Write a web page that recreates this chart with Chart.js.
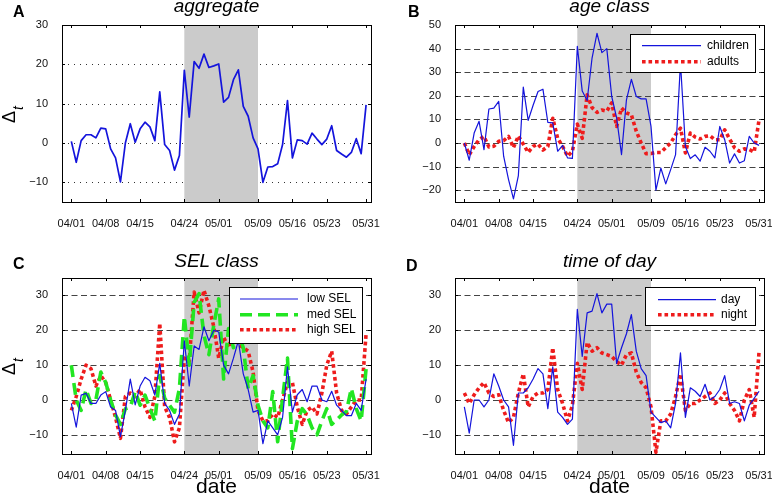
<!DOCTYPE html>
<html>
<head>
<meta charset="utf-8">
<script src="https://cdn.jsdelivr.net/npm/chart.js@4.4.1/dist/chart.umd.min.js"></script>
<style>
  body { margin: 0; background: #fff; }
  #wrap { position: relative; width: 772px; height: 496px; overflow: hidden; }
  canvas { position: absolute; }
</style>
</head>
<body>
<div id="wrap">
  <canvas id="pA" width="386" height="248" style="left:0;top:0"></canvas>
  <canvas id="pB" width="386" height="248" style="left:386px;top:0"></canvas>
  <canvas id="pC" width="386" height="248" style="left:0;top:248px"></canvas>
  <canvas id="pD" width="386" height="248" style="left:386px;top:248px"></canvas>
</div>
<script>
// x axis: day index from 04/01 (0) to 05/31 (60)
var tickDays = [0, 7, 14, 23, 30, 38, 45, 52, 60];
var tickLabels = ["04/01", "04/08", "04/15", "04/24", "05/01", "05/09", "05/16", "05/23", "05/31"];
var shadeDays = [23, 38];

var yTicksA = [-10, 0, 10, 20, 30];
var yTicksB = [-20, -10, 0, 10, 20, 30, 40, 50];
var yTicksCD = [-10, 0, 10, 20, 30];

// A: aggregate
var aggregate = [0.4, -4.9, 0.6, 2.1, 2.1, 1.3, 3.8, 3.6, -1.5, -3.8,
  -9.9, 0, 4.9, 0.2, 3.6, 5.3, 4.1, 0.6, 13, -0.4,
  -1.9, -6.9, -3.2, 18.5, 6.6, 20.7, 19, 22.6, 19.2, 19.6,
  20.1, 10.4, 11.6, 16.1, 18.6, 9.3, 6.8, 1.3, -1.5, -10,
  -6.1, -6, -5.3, -0.4, 10.8, -3.8, 0.8, 0.6, -0.3, 2.5,
  1.0, -0.4, 1.0, 4.4, -1.9, -2.8, -3.6, -2.4, 1.1, -2.7,
  9.7];

// B: age class
var children = [0, -7.3, 4.2, 9.2, -2.8, 14.4, 14.8, 17.6, -5.6, -15.5,
  -23.7, -13.8, 23.7, 9.6, 16, 21.8, 22.8, 8.7, 8.5, -3.5,
  -1, -6.3, -6.5, 41, 22, 18, 36, 46.5, 38.3, 40,
  19.7, 10.6, -4.9, 18.3, 27, 19.7, 18.7, 18.7, 7, -20,
  -10.6, -17.3, -11.3, -4.9, 34, -1.5, -6.6, -5, -7.7, -1.8,
  -3.5, -6.3, 7, 1.4, -8.5, -4.6, -8.5, -7.5, 2.8, 0,
  -1];
var adults = [0, -5, -1.5, 1.4, 2.8, -1.7, -1.4, 0.7, 1, 2.8,
  -2, 3, -0.5, -4, -1.4, -0.5, -3, -1.5, 10.5, 2,
  -1.4, -5.6, -3.5, 8, 2, 20.4, 15, 13, 14, 13.5,
  17, 7, 14.8, 12.7, 12, 5, 0, -4.5, -4.5, -4,
  -4, -2, 0, 3.5, 6.3, -4.2, 4.2, 2.5, 1.7, 2.8,
  3.1, 1.4, 1.4, 5.6, 1.7, -2, -3.5, -2.5, -2.8, -3.8,
  9.9];

// C: SEL class
var lowSEL = [-1, -7.8, 1.4, 1.9, -1, -1, 1.4, 2.4, -2, -3,
  -10.5, -3, 6, -1.4, 4, 6.5, 5.5, 1.4, 10.5, -1,
  -3, -7, -4, 17, 4, 15.5, 14.5, 21, 17, 20,
  19.5, 10, 7.5, 12, 17, 7.5, 3, -3.5, -3, -12.5,
  -6, -8, -10, -5, 9.5, -3.5, 1.5, 3, -0.5, 4,
  4, 0, -0.5, 2.5, -1.5, -3, -4.5, -4.5, -1, -3,
  6];
var medSEL = [10, 0, -3, 3, -1, 0, 8, 5, 0, -4.3,
  -7, -2.5, -2, 2.4, -1.5, 1.4, -2.5, -6, 7, 0.5,
  -1.5, -3.5, 3.3, 24, 10, 28, 30.5, 18.5, 13, 21.5,
  29, 6, 20.5, 15, 19.5, 15, 3.3, 7, -1.5, -6,
  -8, 2.4, -12, 0.5, 12, -14, -6, -2.5, -4.3, -8,
  -10, -6, -2.5, -7, -5.7, -4.3, -3.3, 3.3, -2.5, -6,
  9];
var highSEL = [-3, 1, 6, 10, 9, 4, 7, 5, 0, -5,
  -11, 1, 2, 1, 3, -2, -5, 1, 22, -2,
  -5, -12, -8, 12, 11, 31, 25, 31.5, 27, 21,
  12, 18, 15, 20, 16, 15, 14, 8, -3, -6,
  -6, -4, -5, 0, 5, 5, -2, -7, -3, -2,
  -4, 2, 10, 14, 2, -3, -4, -2, 0, 0,
  19];

// D: time of day
var dayVals = [-2, -9.5, 0, 0, -2, 0, 7.5, 4, 0, -2,
  -13, 2, 2, 3.5, 6, 9, 7.5, -2.5, 9.5, -3.5,
  -5, -7, -5.5, 26, 12.5, 25, 25.5, 30.5, 25, 27.5,
  27.5, 10.5, 15, 19, 24.5, 14, 9, 7, -3.5, -5,
  -6.5, -6, -8, -1, 13.5, -5, 3.5, 2.5, 1, 4.5,
  0, 1, 3, 7, -1, -0.5, -1, -6, -1.5, 0.5,
  2.5];
var nightVals = [2, -1, 1.5, 3.5, 5, 2, 1, 1.5, -3, -6.5,
  -5, 2, 7.5, -2, 1, 2, 2, 3, 15, 3,
  -1, -6, -1.5, 10.5, 3, 16.5, 14, 15, 13.5, 13,
  12.5, 11, 10, 13, 13.5, 8, 5, 3.5, -2, -15,
  -6, -6, -4, 1, 7.5, -3, -1, -1, 0, 1,
  2, -1, 0, 2, -1, -3, -6, 0, 3, -5,
  14];

var FONT = "'Liberation Sans', Arial, Helvetica, sans-serif";
Chart.defaults.font.family = FONT;
Chart.defaults.color = "#000";

var BLUE = "#1414dc";
var RED = "#ee1c1c";
var GREEN = "#22e622";

function pts(vals) {
  return vals.map(function (v, i) { return { x: i, y: v }; });
}

function blueLine(label, vals, w) {
  return { label: label, data: pts(vals), borderColor: BLUE, borderWidth: w };
}
function redDots(label, vals) {
  return { label: label, data: pts(vals), borderColor: RED, borderWidth: 3.6, borderDash: [3.6, 2.9] };
}

var deco = {
  id: "deco",
  beforeDatasetsDraw: function (chart, args, o) {
    var ctx = chart.ctx, a = chart.chartArea, x = chart.scales.x, y = chart.scales.y;
    function shade() {
      var x0 = x.getPixelForValue(shadeDays[0]), x1 = x.getPixelForValue(shadeDays[1]);
      ctx.fillStyle = "#cbcbcb";
      ctx.fillRect(x0, a.top, x1 - x0, a.bottom - a.top);
    }
    function grid() {
      ctx.save();
      ctx.strokeStyle = o.gridColor;
      ctx.lineWidth = 1;
      ctx.setLineDash(o.gridDash);
      o.yTicks.forEach(function (v) {
        var py = Math.round(y.getPixelForValue(v)) + 0.5;
        ctx.beginPath();
        ctx.moveTo(a.left, py);
        ctx.lineTo(a.right, py);
        ctx.stroke();
      });
      ctx.restore();
    }
    ctx.save();
    if (o.shadeOver) { grid(); shade(); } else { shade(); grid(); }
    ctx.restore();
  },
  afterDraw: function (chart, args, o) {
    var ctx = chart.ctx, a = chart.chartArea, x = chart.scales.x, y = chart.scales.y;
    ctx.save();
    // frame and inward ticks
    ctx.strokeStyle = "#000";
    ctx.lineWidth = 1;
    ctx.strokeRect(Math.round(a.left) + 0.5, Math.round(a.top) + 0.5, Math.round(a.right - a.left), Math.round(a.bottom - a.top));
    ctx.beginPath();
    tickDays.forEach(function (d) {
      var px = Math.round(x.getPixelForValue(d)) + 0.5;
      ctx.moveTo(px, a.bottom); ctx.lineTo(px, a.bottom - 3);
      ctx.moveTo(px, a.top); ctx.lineTo(px, a.top + 3);
    });
    o.yTicks.forEach(function (v) {
      var py = Math.round(y.getPixelForValue(v)) + 0.5;
      ctx.moveTo(a.left, py); ctx.lineTo(a.left + 3, py);
      ctx.moveTo(a.right, py); ctx.lineTo(a.right - 3, py);
    });
    ctx.stroke();

    // legend
    if (o.legend) {
      var L = o.legend;
      ctx.fillStyle = "#fff";
      ctx.fillRect(L.x, L.y, L.w, L.h);
      ctx.strokeRect(Math.round(L.x) + 0.5, Math.round(L.y) + 0.5, Math.round(L.w), Math.round(L.h));
      L.rows.forEach(function (ry, i) {
        var ds = chart.data.datasets[i];
        ctx.save();
        ctx.strokeStyle = ds.borderColor;
        ctx.lineWidth = ds.borderWidth;
        ctx.setLineDash(ds.borderDash || []);
        ctx.beginPath();
        ctx.moveTo(L.s0, ry); ctx.lineTo(L.s1, ry);
        ctx.stroke();
        ctx.restore();
        ctx.fillStyle = "#000";
        ctx.font = "12px " + FONT;
        ctx.textAlign = "left";
        ctx.textBaseline = "middle";
        ctx.fillText(ds.label, L.tx, ry);
      });
    }

    // panel letter, title, axis labels
    ctx.fillStyle = "#000";
    ctx.textBaseline = "alphabetic";
    ctx.textAlign = "left";
    ctx.font = "bold 16px " + FONT;
    ctx.fillText(o.letter, o.letterX, o.letterY);
    ctx.textAlign = "center";
    ctx.font = "italic 19px " + FONT;
    ctx.fillText(o.title, (a.left + a.right) / 2, o.titleY);
    if (o.xlabel) {
      ctx.font = "21px " + FONT;
      ctx.fillText(o.xlabel, (a.left + a.right) / 2, 245);
    }
    if (o.ylabelY) {
      ctx.save();
      ctx.translate(15, o.ylabelY);
      ctx.rotate(-Math.PI / 2);
      ctx.textAlign = "left";
      ctx.font = "18px " + FONT;
      ctx.fillText("\u0394", 0, 0);
      var w = ctx.measureText("\u0394").width;
      ctx.font = "italic 14px " + FONT;
      ctx.fillText("t", w + 1, 8);
      ctx.restore();
    }
    ctx.restore();
  }
};

function makePanel(id, datasets, yMin, yMax, yTicks, box, d) {
  d.yTicks = yTicks;
  return new Chart(document.getElementById(id), {
    type: "line",
    data: { datasets: datasets },
    options: {
      responsive: false,
      animation: false,
      devicePixelRatio: 1,
      datasets: { line: { pointRadius: 0, tension: 0, fill: false, borderCapStyle: "butt", borderJoinStyle: "round" } },
      layout: { padding: { left: 0, top: box.top, right: box.right, bottom: 0 } },
      plugins: { legend: { display: false }, tooltip: { enabled: false }, deco: d },
      scales: {
        x: {
          type: "linear",
          min: -1.9,
          max: 61,
          grid: { display: false },
          border: { display: false },
          afterBuildTicks: function (s) { s.ticks = tickDays.map(function (v) { return { value: v }; }); },
          afterFit: function (s) { s.height = box.xh; s.paddingLeft = 0; s.paddingRight = 0; },
          ticks: {
            autoSkip: false, maxRotation: 0, minRotation: 0, padding: 7,
            font: { size: 11 }, color: "#111",
            callback: function (v) { return tickLabels[tickDays.indexOf(v)]; }
          }
        },
        y: {
          min: yMin,
          max: yMax,
          grid: { display: false },
          border: { display: false },
          afterBuildTicks: function (s) { s.ticks = yTicks.map(function (v) { return { value: v }; }); },
          afterFit: function (s) { s.width = box.left; },
          ticks: {
            padding: 6, font: { size: 11 }, color: "#111",
            callback: function (v) { return v < 0 ? "\u2212" + Math.abs(v) : String(v); }
          }
        }
      }
    },
    plugins: [deco]
  });
}

makePanel("pA", [blueLine("aggregate", aggregate, 1.7)], -15, 30, yTicksA,
  { top: 25, right: 15, xh: 46, left: 62 },
  { letter: "A", letterX: 13, letterY: 17, title: "aggregate", titleY: 12, ylabelY: 123,
    shadeOver: true, gridColor: "#333", gridDash: [1, 5] });

makePanel("pB", [blueLine("children", children, 1.2), redDots("adults", adults)], -25, 50, yTicksB,
  { top: 25, right: 8, xh: 46, left: 69 },
  { letter: "B", letterX: 22, letterY: 17, title: "age class", titleY: 12,
    shadeOver: false, gridColor: "#444", gridDash: [6, 3.5],
    legend: { x: 244, y: 34, w: 125, h: 38, rows: [45.7, 61.7], s0: 256, s1: 315, tx: 321 } });

makePanel("pC", [blueLine("low SEL", lowSEL, 1.2),
    { label: "med SEL", data: pts(medSEL), borderColor: GREEN, borderWidth: 3.6, borderDash: [12, 6] },
    redDots("high SEL", highSEL)], -15.5, 35, yTicksCD,
  { top: 30, right: 15, xh: 42, left: 62 },
  { letter: "C", letterX: 13, letterY: 21, title: "SEL class", titleY: 19, ylabelY: 127, xlabel: "date",
    shadeOver: false, gridColor: "#444", gridDash: [6, 3.5],
    legend: { x: 229, y: 39, w: 133, h: 56, rows: [51, 66.7, 81.7], s0: 240, s1: 298, tx: 307 } });

makePanel("pD", [blueLine("day", dayVals, 1.2), redDots("night", nightVals)], -15.5, 35, yTicksCD,
  { top: 30, right: 8, xh: 42, left: 69 },
  { letter: "D", letterX: 20, letterY: 23, title: "time of day", titleY: 19, xlabel: "date",
    shadeOver: false, gridColor: "#444", gridDash: [6, 3.5],
    legend: { x: 259, y: 39, w: 110, h: 38, rows: [51.7, 66.7], s0: 272, s1: 330, tx: 335 } });
</script>
</body>
</html>
